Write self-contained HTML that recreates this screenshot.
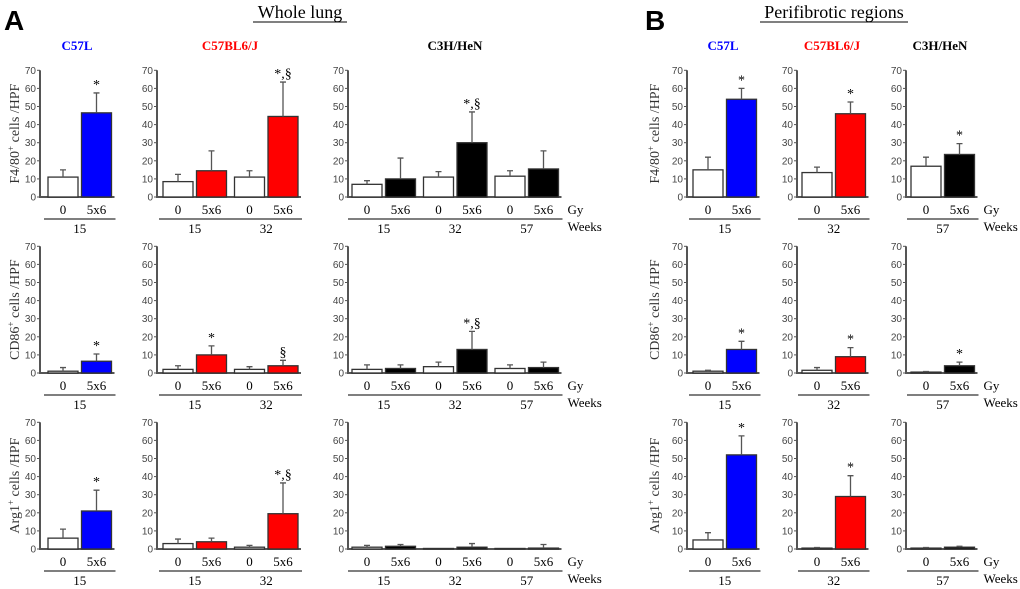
<!DOCTYPE html>
<html><head><meta charset="utf-8"><style>
body{margin:0;background:#fff;}
svg{display:block;font-family:"Liberation Serif",serif;}
.tk{font-family:"Liberation Sans",sans-serif;font-size:10px;fill:#444;}
</style></head><body>
<svg id="fig" width="1020" height="589" viewBox="0 0 1020 589" xmlns="http://www.w3.org/2000/svg">
<text x="4" y="30" font-family="Liberation Sans" font-weight="bold" font-size="28">A</text>
<text x="645" y="30" font-family="Liberation Sans" font-weight="bold" font-size="28">B</text>
<text x="300" y="18" font-size="18" text-anchor="middle">Whole lung</text>
<line x1="253" y1="22" x2="347" y2="22" stroke="#000" stroke-width="1"/>
<text x="834" y="18" font-size="18" text-anchor="middle">Perifibrotic regions</text>
<line x1="760" y1="22" x2="908" y2="22" stroke="#000" stroke-width="1"/>
<text x="77" y="50" font-size="13" font-weight="bold" fill="#0000ff" text-anchor="middle">C57L</text>
<text x="230" y="50" font-size="13" font-weight="bold" fill="#ff0000" text-anchor="middle">C57BL6/J</text>
<text x="455" y="50" font-size="13" font-weight="bold" fill="#000" text-anchor="middle">C3H/HeN</text>
<text x="723" y="50" font-size="13" font-weight="bold" fill="#0000ff" text-anchor="middle">C57L</text>
<text x="832" y="50" font-size="13" font-weight="bold" fill="#ff0000" text-anchor="middle">C57BL6/J</text>
<text x="940" y="50" font-size="13" font-weight="bold" fill="#000" text-anchor="middle">C3H/HeN</text>
</svg>
<script>
// ---- data ----
const rowYTitles = ["F4/80", "CD86", "Arg1"];
const weeksA1 = ["15"], weeksA2 = ["15","32"], weeksA3 = ["15","32","57"];
const weeksB1 = ["15"], weeksB2 = ["32"], weeksB3 = ["57"];
// Row 1 (F4/80)
const r1A1 = [11,46.5], r1A1e = [4,11], r1A1s = ["","*"];
const r1A2 = [8.5,14.5,11,44.5], r1A2e = [4,11,3.5,19], r1A2s = ["","","","*,§"];
const r1A3 = [7,10,11,30,11.5,15.5], r1A3e = [2,11.5,3,17,3,10], r1A3s = ["","","","*,§","",""];
const r1B1 = [15,54], r1B1e = [7,6], r1B1s = ["","*"];
const r1B2 = [13.5,46], r1B2e = [3,6.5], r1B2s = ["","*"];
const r1B3 = [17,23.5], r1B3e = [5,6], r1B3s = ["","*"];
// Row 2 (CD86)
const r2A1 = [1,6.5], r2A1e = [2,4], r2A1s = ["","*"];
const r2A2 = [2,10,2,4], r2A2e = [2,5,1.5,3], r2A2s = ["","*","","§"];
const r2A3 = [2,2.5,3.5,13,2.5,3], r2A3e = [2.5,2,2.5,10,2,3], r2A3s = ["","","","*,§","",""];
const r2B1 = [1,13], r2B1e = [0.5,4.5], r2B1s = ["","*"];
const r2B2 = [1.5,9], r2B2e = [1.5,5], r2B2s = ["","*"];
const r2B3 = [0.5,4], r2B3e = [0.3,2], r2B3s = ["","*"];
// Row 3 (Arg1)
const r3A1 = [6,21], r3A1e = [5,11.5], r3A1s = ["","*"];
const r3A2 = [3,4,1,19.5], r3A2e = [2.5,2,1,17], r3A2s = ["","","","*,§"];
const r3A3 = [1,1.5,0.3,1,0.3,0.5], r3A3e = [1,1,0,2,0,2], r3A3s = ["","","","","",""];
const r3B1 = [5,52], r3B1e = [4,10.5], r3B1s = ["","*"];
const r3B2 = [0.5,29], r3B2e = [0.3,11.5], r3B2s = ["","*"];
const r3B3 = [0.5,1], r3B3e = [0.3,0.5], r3B3s = ["",""];
const yTicks = [0,10,20,30,40,50,60,70];

// ---- layout ----
const NS = "http://www.w3.org/2000/svg";
const svg = document.getElementById("fig");
function mk(tag, attrs, parent) {
  const e = document.createElementNS(NS, tag);
  for (const k in attrs) e.setAttribute(k, attrs[k]);
  (parent || svg).appendChild(e);
  return e;
}
const rowZero = [197, 373, 549];
const unit = 1.81;
const panels = [
  {ax:40, bar0:48, colour:"#0000ff", weeks:weeksA1, data:[[r1A1,r1A1e,r1A1s],[r2A1,r2A1e,r2A1s],[r3A1,r3A1e,r3A1s]], gy:false},
  {ax:157, bar0:163, colour:"#ff0000", weeks:weeksA2, data:[[r1A2,r1A2e,r1A2s],[r2A2,r2A2e,r2A2s],[r3A2,r3A2e,r3A2s]], gy:false},
  {ax:348, bar0:352, colour:"#000000", weeks:weeksA3, data:[[r1A3,r1A3e,r1A3s],[r2A3,r2A3e,r2A3s],[r3A3,r3A3e,r3A3s]], gy:true},
  {ax:687, bar0:693, colour:"#0000ff", weeks:weeksB1, data:[[r1B1,r1B1e,r1B1s],[r2B1,r2B1e,r2B1s],[r3B1,r3B1e,r3B1s]], gy:false},
  {ax:797, bar0:802, colour:"#ff0000", weeks:weeksB2, data:[[r1B2,r1B2e,r1B2s],[r2B2,r2B2e,r2B2s],[r3B2,r3B2e,r3B2s]], gy:false},
  {ax:906, bar0:911, colour:"#000000", weeks:weeksB3, data:[[r1B3,r1B3e,r1B3s],[r2B3,r2B3e,r2B3s],[r3B3,r3B3e,r3B3s]], gy:true}
];
const barW = 30, barGap = 3.5, groupGap = 8;
panels[0].title = 15; panels[3].title = 655;

panels.forEach((p, pi) => {
  for (let r = 0; r < 3; r++) {
    const y0 = rowZero[r];
    const yOf = v => y0 - v * unit;
    const [vals, errs, sig] = p.data[r];
    const g = mk("g", {});
    
    
    const xOf = i => p.bar0 + Math.floor(i/2) * (2*barW + barGap + groupGap) + (i%2) * (barW + barGap);
    const xEnd = xOf(vals.length - 1) + barW + 3;
    const ya = mk("line", {x1:p.ax, y1:yOf(70), x2:p.ax, y2:y0, stroke:"#555", "stroke-width":2}, g);
    
    
    const xa = mk("line", {x1:p.ax-1, y1:y0, x2:xEnd, y2:y0, stroke:"#555", "stroke-width":2}, g);
    
    
    yTicks.forEach(t => {
      mk("line", {x1:p.ax-3, y1:yOf(t), x2:p.ax, y2:yOf(t), stroke:"#555", "stroke-width":1}, g);
      const tl = mk("text", {x:p.ax-4, y:yOf(t)+3.5, "text-anchor":"end", class:"tk"}, g);
      tl.textContent = t;
      
      
    });
    vals.forEach((v, i) => {
      const x = xOf(i);
      const fill = i % 2 === 0 ? "#ffffff" : p.colour;
      const b = mk("rect", {x:x, y:yOf(v), width:barW, height:v*unit, fill:fill, stroke:"#333", "stroke-width":1.3}, g);
      
      
      const cx = x + barW/2, top = yOf(v + errs[i]);
      if (errs[i] > 0) {
        const eb = mk("path", {d:`M${cx},${yOf(v)}V${top}M${cx-3},${top}H${cx+3}`, stroke:"#555", "stroke-width":1.3, fill:"none"}, g);
        
        
      }
      if (sig[i]) {
        const st = mk("text", {x:cx, y:top-4, "text-anchor":"middle", "font-size":14}, g);
        st.textContent = sig[i];
        
        
      }
      const gl = mk("text", {x:cx, y:y0+17, "text-anchor":"middle", "font-size":13}, g);
      gl.textContent = i % 2 === 0 ? "0" : "5x6";
      
      
    });
    p.weeks.forEach((w, k) => {
      const xa0 = xOf(2*k) - 4, xa1 = xOf(2*k+1) + barW + 4;
      mk("line", {x1:xa0, y1:y0+22, x2:xa1, y2:y0+22, stroke:"#555", "stroke-width":1.5}, g);
      const wl = mk("text", {x:(xa0+xa1)/2, y:y0+36, "text-anchor":"middle", "font-size":13}, g);
      wl.textContent = w;
      
      
    });
    if (p.gy) {
      const t1 = mk("text", {x:xEnd+6, y:y0+17, "font-size":13}, g);
      t1.textContent = "Gy";
      
      
      const t2 = mk("text", {x:xEnd+6, y:y0+34, "font-size":13}, g);
      t2.textContent = "Weeks";
      
      
    }
    if (p.title) {
      const cy = yOf(35);
      const tt = mk("text", {x:p.title, y:cy, "text-anchor":"middle", "font-size":14, fill:"#333", transform:`rotate(-90 ${p.title} ${cy})`, dy:"4"}, g);
      const ts1 = mk("tspan", {}, tt); ts1.textContent = rowYTitles[r];
      const ts2 = mk("tspan", {dy:"-5", "font-size":9}, tt); ts2.textContent = "+";
      const ts3 = mk("tspan", {dy:"5"}, tt); ts3.textContent = " cells  /HPF";
      
      
    }
  }
});
</script>
</body></html>
